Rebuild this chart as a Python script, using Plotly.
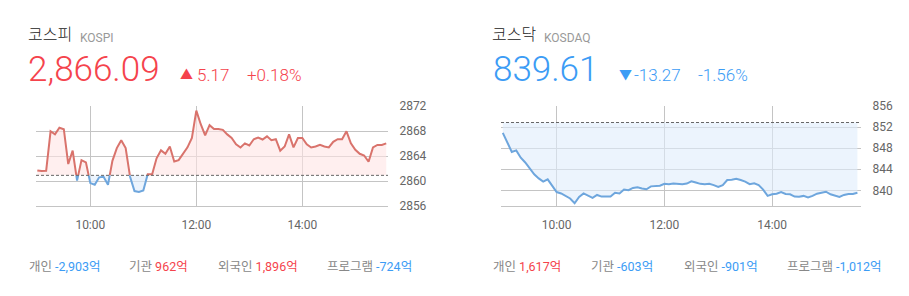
import numpy as np
import plotly.graph_objects as go

W, H = 909, 296

# ---------------- data ----------------
kospi_vals = [2861.71, 2861.6, 2861.65, 2867.97, 2867.47, 2868.53, 2868.3, 2862.73, 2864.87, 2860.09,
              2863.35, 2862.99, 2859.68, 2859.42, 2860.6, 2860.7, 2859.42, 2863.24, 2865.28, 2866.55,
              2865.28, 2860.7, 2858.41, 2858.26, 2858.5, 2861.1, 2861.1, 2863.65, 2864.92, 2864.37,
              2865.53, 2863.14, 2863.35, 2864.37, 2865.4, 2866.9, 2871.28, 2869.1, 2867.31, 2868.95,
              2868.34, 2868.34, 2868.2, 2867.47, 2866.9, 2865.89, 2865.38, 2866.04, 2865.7, 2866.7,
              2866.95, 2866.65, 2867.16, 2866.55, 2866.7, 2864.87, 2865.53, 2867.47, 2865.4, 2866.9,
              2866.9, 2865.89, 2865.38, 2865.53, 2865.79, 2865.53, 2865.38, 2866.29, 2866.7, 2866.7,
              2867.97, 2866.04, 2865.02, 2864.37, 2864.1, 2863.09, 2865.4, 2865.79, 2865.79, 2866.04]
kosdaq_vals = [850.92, 849.21, 847.29, 847.58, 846.2, 845.29, 844.26, 843.04, 842.26, 841.66,
               842.08, 840.75, 839.67, 839.41, 838.94, 838.45, 837.54, 838.76, 839.41, 838.94,
               838.58, 839.12, 838.81, 838.81, 838.81, 839.54, 839.41, 840.14, 840.02, 840.45,
               840.57, 840.33, 840.2, 840.75, 840.75, 840.87, 841.23, 841.17, 841.29, 841.23,
               841.17, 841.29, 841.72, 841.47, 841.23, 841.17, 841.23, 840.99, 840.63, 840.99,
               841.96, 842.02, 842.2, 841.96, 841.66, 841.17, 841.35, 840.99, 840.14, 838.94,
               839.24, 839.36, 839.67, 839.3, 839.24, 838.81, 838.76, 838.94, 838.64, 838.94,
               839.36, 839.54, 839.73, 839.24, 839.06, 838.76, 839.12, 839.3, 839.3, 839.54]
minutes = [i * 5 for i in range(80)]          # minutes after 09:00

kospi_prev_close = 2860.92
kosdaq_prev_close = 852.88

x_tickvals = [60, 180, 300]
x_ticktext = ["10:00", "12:00", "14:00"]
kospi_yticks = [2856, 2860, 2864, 2868, 2872]
kosdaq_yticks = [840, 844, 848, 852, 856]

headers = [
    dict(name="코스피", code="KOSPI", value="2,866.09", arrow="▲", change="5.17", pct="+0.18%", up=True),
    dict(name="코스닥", code="KOSDAQ", value="839.61", arrow="▼", change="-13.27", pct="-1.56%", up=False),
]
investors_labels = ["개인", "기관", "외국인", "프로그램"]
kospi_investors = ["-2,903억", "962억", "1,896억", "-724억"]
kosdaq_investors = ["1,617억", "-603억", "-901억", "-1,012억"]

# ---------------- style ----------------
RED = "#f5434c"
BLUE = "#3c9cf5"
LINE_RED = "#d9736c"
LINE_BLUE = "#6ea6dd"
FILL_RED = "rgba(255,228,228,0.6)"
FILL_BLUE = "rgba(224,237,251,0.6)"
GRID = "#c4c4c4"
FONT = "Roboto, 'Noto Sans CJK KR', sans-serif"
KFONT = "'Noto Sans CJK KR', Roboto, sans-serif"


def px(x):
    return x / W


def py(y):
    return 1 - y / H


def split_series(t, v, base):
    tt, vv = [t[0]], [v[0]]
    for i in range(1, len(t)):
        a, b = v[i - 1] - base, v[i] - base
        if a * b < 0:
            tc = t[i - 1] + (base - v[i - 1]) / (v[i] - v[i - 1]) * (t[i] - t[i - 1])
            tt.append(tc)
            vv.append(base)
        tt.append(t[i])
        vv.append(v[i])
    return np.array(tt, dtype=float), np.array(vv, dtype=float)


fig = go.Figure()


def add_chart(vals, base, xa, ya):
    tt, vv = split_series(minutes, vals, base)
    basey = np.full_like(vv, base)
    common = dict(xaxis=xa, yaxis=ya, showlegend=False, hoverinfo="skip", mode="lines")
    fig.add_trace(go.Scatter(x=tt, y=basey, line=dict(width=0), **common))
    fig.add_trace(go.Scatter(x=tt, y=np.maximum(vv, base), fill="tonexty", fillcolor=FILL_RED,
                             line=dict(width=0), **common))
    fig.add_trace(go.Scatter(x=tt, y=basey, line=dict(width=0), **common))
    fig.add_trace(go.Scatter(x=tt, y=np.minimum(vv, base), fill="tonexty", fillcolor=FILL_BLUE,
                             line=dict(width=0), **common))
    up = [v if v >= base else None for v in vv]
    dn = [v if v <= base else None for v in vv]
    fig.add_trace(go.Scatter(x=tt, y=up, line=dict(color=LINE_RED, width=2), connectgaps=False, **common))
    fig.add_trace(go.Scatter(x=tt, y=dn, line=dict(color=LINE_BLUE, width=2), connectgaps=False, **common))


add_chart(kospi_vals, kospi_prev_close, "x", "y")
add_chart(kosdaq_vals, kosdaq_prev_close, "x2", "y2")

xcommon = dict(tickvals=x_tickvals, ticktext=x_ticktext, showgrid=True, gridcolor=GRID, gridwidth=1,
               zeroline=False, showline=True, linecolor=GRID, linewidth=1, ticks="outside", ticklen=7,
               tickcolor="rgba(0,0,0,0)", tickfont=dict(family=FONT, size=12, color="#666"))
ycommon = dict(side="right", showgrid=True, gridcolor=GRID, gridwidth=1, zeroline=False, showline=False,
               ticks="outside", ticklen=8, tickcolor="rgba(0,0,0,0)",
               tickfont=dict(family=FONT, size=12, color="#666"))

ydom = [py(209), py(104)]
fig.update_layout(
    width=W, height=H, margin=dict(l=0, r=0, t=0, b=0),
    paper_bgcolor="white", plot_bgcolor="white", showlegend=False,
    xaxis=dict(domain=[px(36), px(388)], range=[-1.5, 397], anchor="y", **xcommon),
    yaxis=dict(domain=ydom, range=[2856, 2872], tickvals=kospi_yticks, anchor="x", **ycommon),
    xaxis2=dict(domain=[px(501), px(861)], range=[-2, 399], anchor="y2", **xcommon),
    yaxis2=dict(domain=ydom, range=[837.0, 856], tickvals=kosdaq_yticks, anchor="x2", **ycommon),
)

shapes = []
for base, xr, yr in [(kospi_prev_close, "x domain", "y"), (kosdaq_prev_close, "x2 domain", "y2")]:
    shapes.append(dict(type="line", xref=xr, yref=yr, x0=0, x1=1, y0=base, y1=base,
                       line=dict(color="#666", width=1, dash="3px,2px"), layer="above"))
fig.update_layout(shapes=shapes)

ann = []


def text(x, y, s, size, color, family=FONT, weight=None):
    f = dict(family=family, size=size, color=color)
    if weight:
        f["weight"] = weight
    ann.append(dict(x=px(x), y=py(y), xref="paper", yref="paper", xanchor="left", yanchor="middle",
                    text=s, showarrow=False, font=f))


lefts = [
    dict(name=26, code=78, value=26, arrow=178, change=195, pct=245),
    dict(name=490, code=542, value=491, arrow=617, change=632, pct=696),
]
for h, L in zip(headers, lefts):
    col = RED if h["up"] else BLUE
    text(L["name"], 27, h["name"], 16, "#222", KFONT, 300)
    text(L["code"], 33, h["code"], 12, "#999")
    text(L["value"], 66, h["value"], 35, col, FONT, 300)
    text(L["arrow"], 71, h["arrow"], 13, col)
    text(L["change"], 71, h["change"], 17, col, FONT, 300)
    text(L["pct"], 71, h["pct"], 17, col, FONT, 300)

inv_x = [[27, 127, 216, 325], [491, 589, 682, 785]]
for vals, xs in zip([kospi_investors, kosdaq_investors], inv_x):
    for lab, v, x in zip(investors_labels, vals, xs):
        col = BLUE if v.startswith("-") else RED
        text(x, 272, f'{lab} <span style="color:{col}">{v}</span>', 12.5, "#888", FONT)

fig.update_layout(annotations=ann)
fig.write_html("out.html")
